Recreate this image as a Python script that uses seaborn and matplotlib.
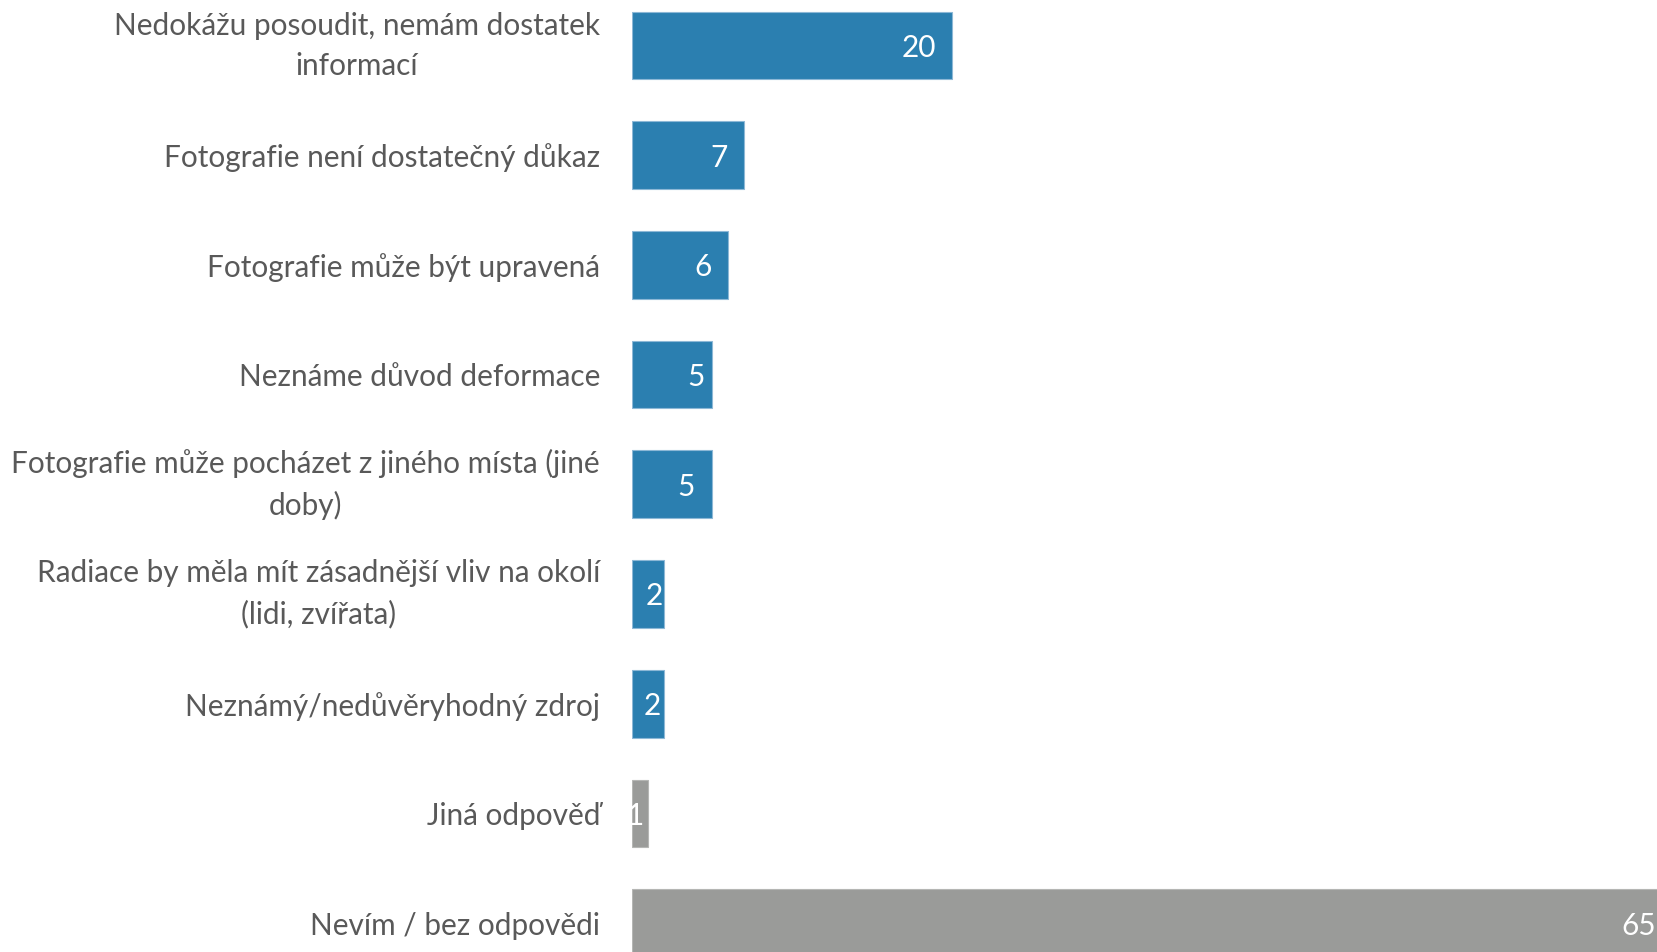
import matplotlib
matplotlib.use("Agg")
import matplotlib.pyplot as plt
import matplotlib.transforms as mtransforms
import seaborn as sns
import pandas as pd

categories = [
    "Nedokážu posoudit, nemám dostatek\ninformací",
    "Fotografie není dostatečný důkaz",
    "Fotografie může být upravená",
    "Neznáme důvod deformace",
    "Fotografie může pocházet z jiného místa (jiné\ndoby)",
    "Radiace by měla mít zásadnější vliv na okolí\n(lidi, zvířata)",
    "Neznámý/nedůvěryhodný zdroj",
    "Jiná odpověď",
    "Nevím / bez odpovědi",
]
values = [20, 7, 6, 5, 5, 2, 2, 1, 65]
groups = ["reason"] * 7 + ["other"] * 2

# distance (px) from bar end to the right edge of each value label
label_pad_px = [16, 16, 16, 7, 17, 1, 3, 4, 16]

palette = {"reason": "#2B7FB0", "other": "#9A9B99"}

df = pd.DataFrame({"category": categories, "value": values, "group": groups})

sns.set_theme(style="white")
plt.rcParams["font.family"] = ["Lato", "DejaVu Sans"]

W, H = 1658, 952
fig = plt.figure(figsize=(W / 100, H / 100), dpi=100)
ax_left = 632 / W
ax = fig.add_axes([ax_left, 0, 1 - ax_left, 1])

sns.barplot(
    data=df, y="category", x="value", hue="group", palette=palette,
    orient="h", width=0.617, dodge=False, legend=False, ax=ax,
    saturation=1, edgecolor="#8DB8D6", linewidth=0.8,
)
for patch, g in zip(ax.patches, groups):
    if g == "other":
        patch.set_edgecolor("#B5B6B4")

ax.set_xlim(0, 1026 / 16)
ax.set_ylim(8.264, -0.415)
ax.set_xlabel("")
ax.set_ylabel("")
ax.set_xticks([])
for s in ax.spines.values():
    s.set_visible(False)

ax.tick_params(axis="y", length=0, pad=23)
for lbl in ax.get_yticklabels():
    lbl.set_fontsize(21.4)
    lbl.set_color("#595959")
    lbl.set_multialignment("center")
    lbl.set_linespacing(1.52)
    if "\n" in lbl.get_text():
        lbl.set_verticalalignment("center")

for i, (v, pad) in enumerate(zip(values, label_pad_px)):
    off = mtransforms.offset_copy(ax.transData, fig=fig, x=-pad, y=0, units="dots")
    ax.text(v, i, str(v), transform=off, ha="right", va="center_baseline",
            fontsize=21.4, color="white", clip_on=False)

fig.savefig("out.png", dpi=100)
